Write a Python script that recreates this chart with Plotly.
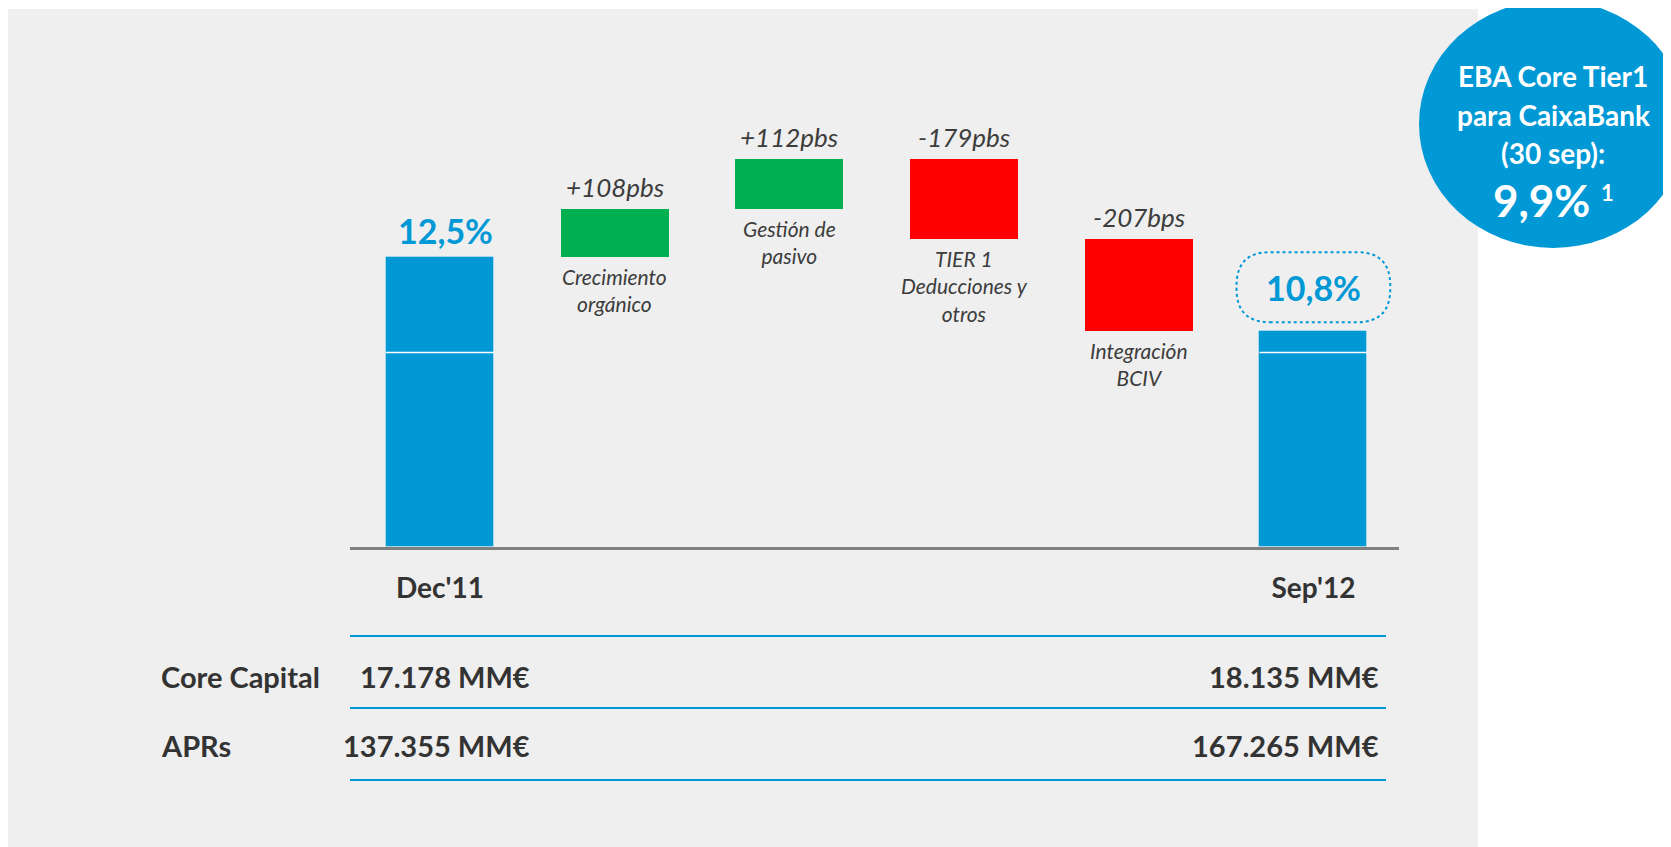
import plotly.graph_objects as go

# ---------------- data ----------------
start_label = "Dec'11"
end_label = "Sep'12"
start_value = 12.5
step_names = ["Crecimiento<br>orgánico", "Gestión de<br>pasivo",
              "TIER 1<br>Deducciones y<br>otros", "Integración<br>BCIV"]
step_deltas = [1.08, 1.12, -1.79, -2.07]
step_labels = ["+108pbs", "+112pbs", "-179pbs", "-207bps"]
total_labels = ["12,5%", "10,8%"]
split_level = 10.36
axis_floor = 6.0
table_rows = ["Core Capital", "APRs"]
table_dec = ["17.178 MM€", "137.355 MM€"]
table_sep = ["18.135 MM€", "167.265 MM€"]
badge_lines = ["EBA Core Tier1", "para CaixaBank", "(30 sep):"]
badge_value = "9,9%"
badge_note = "1"

# ---------------- styles ----------------
W, H = 1671, 847
OFF = 8  # page body margin
BLUE = "#0099d6"
GREEN = "#00b050"
RED = "#ff0000"
DARK = "#333333"
ITAL = "#3c3c3c"
PANEL = "#efefef"
FONT = "Lato"
BAR_W = 0.618


def px(x):
    return (x - OFF) / W


def py(y):
    return 1 - (y - OFF) / H


# waterfall geometry derived from data
n_steps = len(step_deltas)
x_steps = list(range(1, n_steps + 1))
x_end = n_steps + 1
bases, running = [], start_value
for d in step_deltas:
    bases.append(running)
    running += d
end_value = running

fig = go.Figure()

# totals
fig.add_trace(go.Bar(
    x=[0, x_end], y=[start_value - axis_floor, end_value - axis_floor],
    base=[axis_floor, axis_floor], width=BAR_W,
    marker=dict(color=BLUE, line=dict(color="rgba(255,255,255,0.35)", width=1)),
    hoverinfo="skip", showlegend=False))

# steps
step_colors = [GREEN if d > 0 else RED for d in step_deltas]
fig.add_trace(go.Bar(
    x=x_steps, y=step_deltas, base=bases, width=BAR_W,
    marker=dict(color=step_colors, line=dict(width=0)),
    hoverinfo="skip", showlegend=False))

# white split lines inside total bars
sx, sy = [], []
for c in [0, x_end]:
    sx += [c - BAR_W / 2, c + BAR_W / 2, None]
    sy += [split_level, split_level, None]
fig.add_trace(go.Scatter(x=sx, y=sy, mode="lines",
                         line=dict(color="white", width=1.5),
                         hoverinfo="skip", showlegend=False))

annotations = []
# total labels
annotations.append(dict(x=0, y=start_value, xref="x", yref="y",
                        text="<b>%s</b>" % total_labels[0], showarrow=False,
                        yanchor="middle", yshift=27, xshift=6,
                        font=dict(family=FONT, size=34, color=BLUE)))
annotations.append(dict(x=x_end, y=end_value, xref="x", yref="y",
                        text="<b>%s</b>" % total_labels[1], showarrow=False,
                        yanchor="middle", yshift=44,
                        font=dict(family=FONT, size=34, color=BLUE)))

# step labels
for x, b, d, lab, name in zip(x_steps, bases, step_deltas, step_labels, step_names):
    top = max(b, b + d)
    bot = min(b, b + d)
    annotations.append(dict(x=x, y=top, xref="x", yref="y",
                            text="<i>%s</i>" % lab, showarrow=False,
                            yanchor="middle", yshift=22,
                            font=dict(family=FONT, size=26, color=ITAL)))
    annotations.append(dict(x=x, y=bot, xref="x", yref="y",
                            text="<i>%s</i>" % name, showarrow=False,
                            yanchor="top", yshift=-5, align="center",
                            font=dict(family=FONT, size=21, color=ITAL)))

# table
row_y = [676, 745]
for ry, name, dv, sv in zip(row_y, table_rows, table_dec, table_sep):
    annotations.append(dict(x=px(159), y=py(ry), xref="paper", yref="paper",
                            text="<b>%s</b>" % name, showarrow=False,
                            xanchor="left", yanchor="middle",
                            font=dict(family=FONT, size=29, color=DARK)))
    annotations.append(dict(x=px(532), y=py(ry), xref="paper", yref="paper",
                            text="<b>%s</b>" % dv, showarrow=False,
                            xanchor="right", yanchor="middle",
                            font=dict(family=FONT, size=29, color=DARK)))
    annotations.append(dict(x=px(1381), y=py(ry), xref="paper", yref="paper",
                            text="<b>%s</b>" % sv, showarrow=False,
                            xanchor="right", yanchor="middle",
                            font=dict(family=FONT, size=29, color=DARK)))

# badge text
for ly, t in zip([76, 115, 153], badge_lines):
    annotations.append(dict(x=px(1553), y=py(ly), xref="paper", yref="paper",
                            text="<b>%s</b>" % t, showarrow=False,
                            xanchor="center", yanchor="middle",
                            font=dict(family=FONT, size=28, color="white")))
annotations.append(dict(x=px(1541), y=py(200), xref="paper", yref="paper",
                        text="<b>%s</b>" % badge_value, showarrow=False,
                        xanchor="center", yanchor="middle",
                        font=dict(family=FONT, size=44, color="white")))
annotations.append(dict(x=px(1607), y=py(192), xref="paper", yref="paper",
                        text="<b>%s</b>" % badge_note, showarrow=False,
                        xanchor="center", yanchor="middle",
                        font=dict(family=FONT, size=22, color="white")))

shapes = []
# grey panel
shapes.append(dict(type="rect", xref="paper", yref="paper",
                   x0=px(8), x1=px(1478), y0=-0.05, y1=py(9),
                   fillcolor=PANEL, line=dict(width=0), layer="below"))
# table rules
for ly in [636, 708, 780]:
    shapes.append(dict(type="line", xref="paper", yref="paper",
                       x0=px(350), x1=px(1386), y0=py(ly), y1=py(ly),
                       line=dict(color=BLUE, width=2.2)))
# badge ellipse
shapes.append(dict(type="circle", xref="paper", yref="paper",
                   x0=px(1419), x1=px(1687), y0=py(248), y1=py(0),
                   fillcolor=BLUE, line=dict(width=0), layer="below"))
# dotted rounded box around final label
bx0, bx1 = x_end - 0.44, x_end + 0.44
by0, by1 = end_value + 0.2, end_value + 1.77
rx, ry = 0.19, 0.75
path = (f"M {bx0+rx},{by0} L {bx1-rx},{by0} Q {bx1},{by0} {bx1},{by0+ry} "
        f"L {bx1},{by1-ry} Q {bx1},{by1} {bx1-rx},{by1} "
        f"L {bx0+rx},{by1} Q {bx0},{by1} {bx0},{by1-ry} "
        f"L {bx0},{by0+ry} Q {bx0},{by0} {bx0+rx},{by0} Z")
shapes.append(dict(type="path", xref="x", yref="y", path=path,
                   line=dict(color=BLUE, width=2, dash="dot")))

y_top = axis_floor + (547 - 20) / 44.6

fig.update_layout(
    width=W, height=H,
    margin=dict(l=0, r=0, t=0, b=0),
    paper_bgcolor="white", plot_bgcolor="rgba(0,0,0,0)",
    barmode="overlay", bargap=0,
    showlegend=False,
    xaxis=dict(domain=[px(350), px(1399)], range=[-0.515, 5.49],
               tickvals=[0, x_end],
               ticktext=["<b>%s</b>" % start_label, "<b>%s</b>" % end_label],
               tickfont=dict(family=FONT, size=28, color=DARK),
               ticks="outside", ticklen=15, tickcolor="rgba(0,0,0,0)",
               showline=True, linecolor="#808080", linewidth=2.5,
               showgrid=False, zeroline=False, fixedrange=True),
    yaxis=dict(domain=[py(547), py(20)], range=[axis_floor, y_top],
               visible=False, showgrid=False, zeroline=False, fixedrange=True),
    annotations=annotations,
    shapes=shapes,
)

fig.write_html("out.html")
